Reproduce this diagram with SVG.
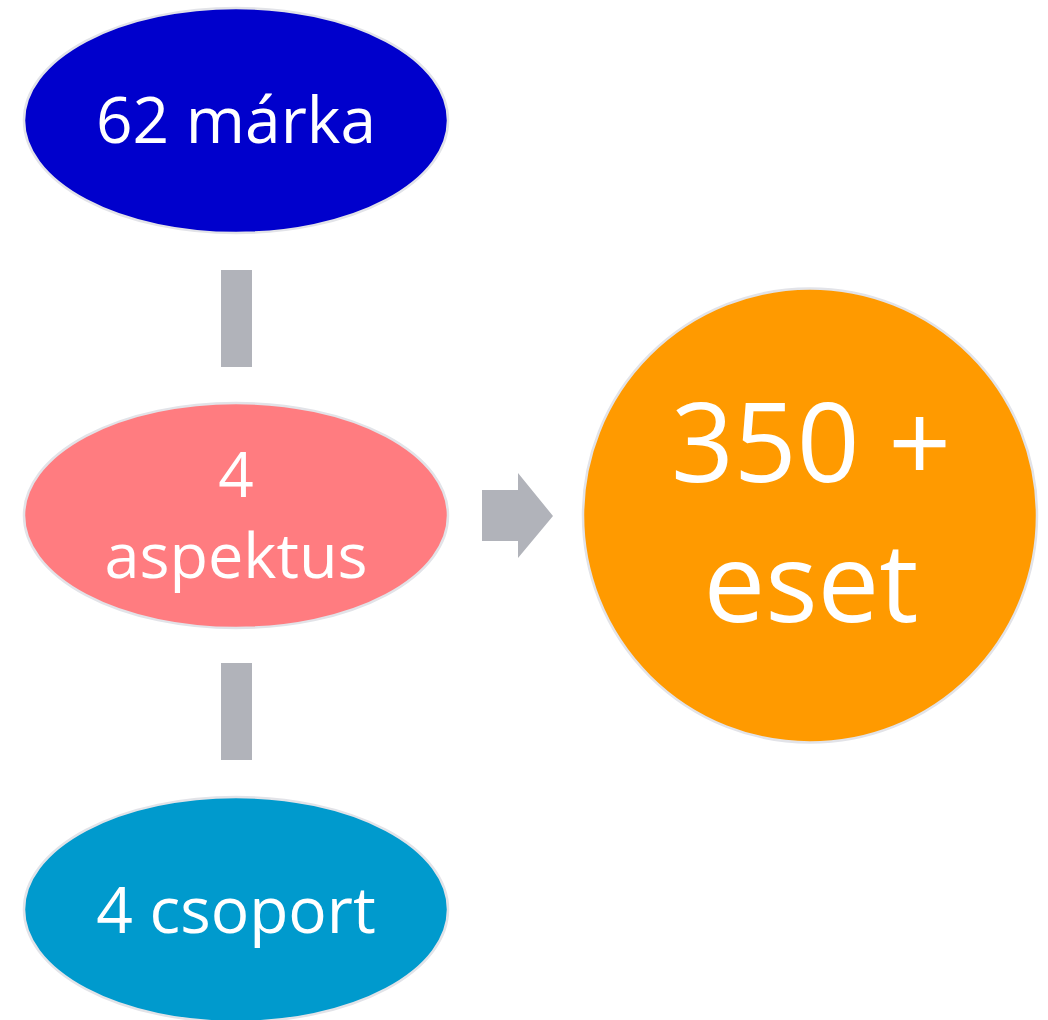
<svg xmlns="http://www.w3.org/2000/svg" width="1048" height="1020" viewBox="0 0 1048 1020">
<style>
.n{stroke:#E2E3E8;stroke-width:2.5}
.t{font-family:"Open Sans","Liberation Sans",sans-serif;fill:#fff;text-anchor:middle}
.c{fill:#B1B3BA}
</style>
<rect width="1048" height="1020" fill="#fff"/>
<g id="connectors">
<rect class="c" x="221" y="270" width="31" height="97"/>
<rect class="c" x="221" y="663" width="31" height="97"/>
<path class="c" d="M482,490 H518 V473 L553,516 L518,558 V541 H482 Z"/>
</g>
<g id="n1">
<ellipse class="n" cx="236" cy="120.5" rx="212" ry="112.5" fill="#0000CC"/>
<text class="t" x="236" y="143" font-size="64">62 márka</text>
</g>
<g id="n2">
<ellipse class="n" cx="236" cy="515.5" rx="212" ry="112.5" fill="#FF7C80"/>
<text class="t" x="236" y="497" font-size="62">4</text>
<text class="t" x="236" y="578" font-size="63">aspektus</text>
</g>
<g id="n3">
<ellipse class="n" cx="236" cy="909.5" rx="212" ry="112.5" fill="#009ACD"/>
<text class="t" x="236" y="933" font-size="64">4 csoport</text>
</g>
<g id="n4">
<circle class="n" cx="810" cy="515.5" r="227" fill="#FF9A00"/>
<text class="t" x="811" y="482" font-size="110">350 +</text>
<text class="t" x="811" y="622" font-size="110">eset</text>
</g>
</svg>
